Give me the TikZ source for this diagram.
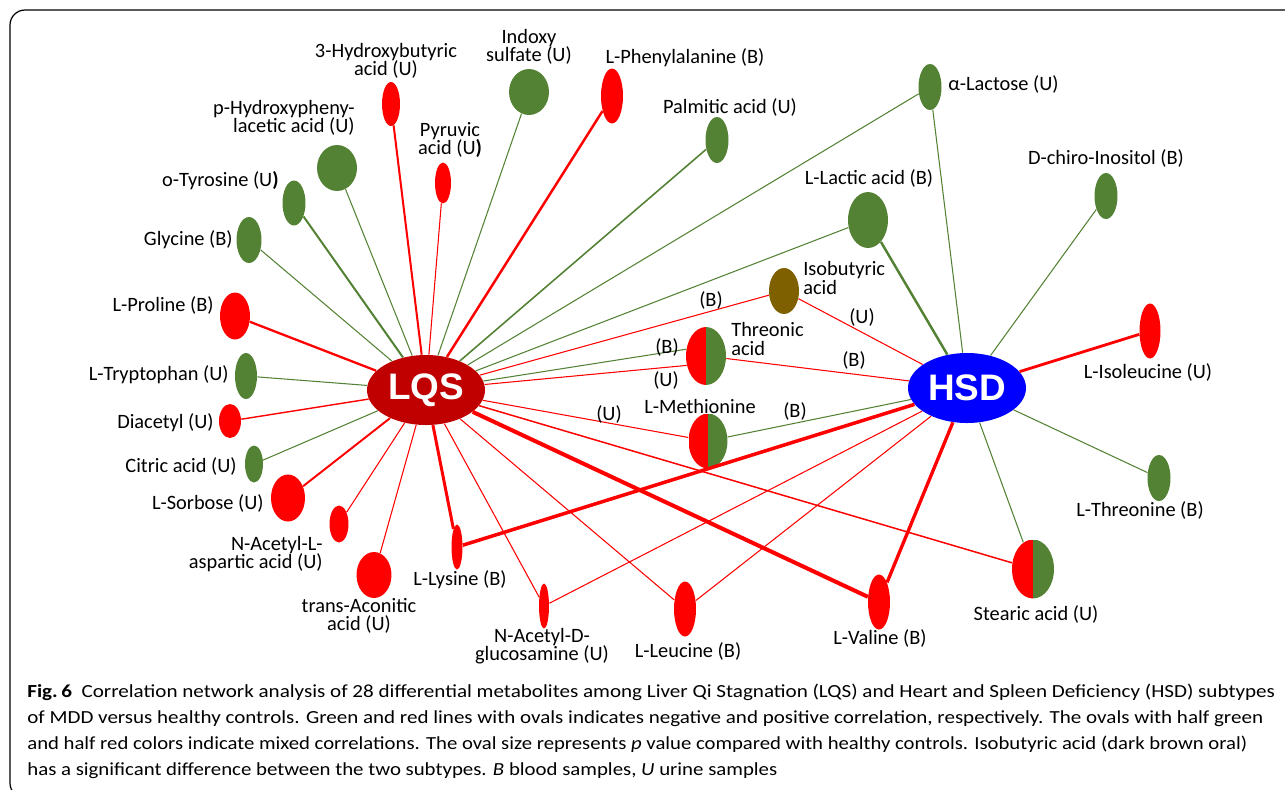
\documentclass[tikz,border=0pt]{standalone}
\usepackage{fontspec}
\usepackage{graphicx}
\setmainfont{Carlito}
\newfontfamily\arialf{Liberation Sans}
\usetikzlibrary{shapes.geometric}
\definecolor{gr}{HTML}{548235}
\definecolor{rd}{HTML}{FF0000}
\definecolor{lqsred}{HTML}{C00000}
\definecolor{brn}{HTML}{7F6000}
\definecolor{hsdblue}{HTML}{0000FF}
\begin{document}
\begin{tikzpicture}[x=0.02cm,y=-0.02cm,
  ov/.style 2 args={ellipse, inner sep=0pt, minimum width=#1*0.04cm, minimum height=#2*0.04cm},
  gfill/.style={fill=gr}, rfill/.style={fill=rd},
  mix/.style={path picture={
    \fill[rd] (path picture bounding box.south west) rectangle (path picture bounding box.north);
    \fill[gr] (path picture bounding box.south) rectangle (path picture bounding box.north east);}},
  lab/.style={font=\fontsize{11.6}{10.5}\selectfont, inner sep=0pt},
  hub/.style={ellipse, inner sep=0pt, minimum width=118*0.02cm, minimum height=70*0.02cm,
    text=white, font=\arialf\bfseries\fontsize{21}{21}\selectfont},
  gl/.style={draw=gr, line width=#1},
  rl/.style={draw=rd, line width=#1},
  captxt/.style={anchor=base west, inner sep=0pt, font=\fontsize{10.5}{12}\selectfont}
]
\useasboundingbox (0,0) rectangle (1285,789);
\begin{scope}
\clip (0,0) rectangle (1285,789);
\draw[line width=0.7pt, rounded corners=15*0.02cm] (1320,10) -- (10,10) -- (10,798) -- (1320,798);
\end{scope}

% hubs
\node[hub, fill=lqsred] (LQS) at (426,390) {LQS};
\node[hub, fill=hsdblue] (HSD) at (967,388) {HSD};

% metabolites
\node[ov={9}{22}, rfill] (hyb) at (391,104) {};
\node[ov={20}{23}, gfill] (php) at (337,168) {};
\node[ov={11.5}{22.5}, gfill] (oty) at (294,203) {};
\node[ov={12.5}{23}, gfill] (gly) at (249,240) {};
\node[ov={8}{20.5}, rfill] (pyr) at (443,183) {};
\node[ov={20}{23}, gfill] (ind) at (529,92) {};
\node[ov={11}{27.5}, rfill] (phe) at (612,96) {};
\node[ov={11.5}{23}, gfill] (pal) at (717,140) {};
\node[ov={11.5}{23}, gfill] (alac) at (930,87) {};
\node[ov={20}{28}, gfill] (llac) at (868,220) {};
\node[ov={11.5}{23}, gfill] (dchi) at (1106,196) {};
\node[ov={15}{23}, fill=brn] (iso) at (784,291) {};
\node[ov={20}{29}, mix] (thr) at (706,356) {};
\node[ov={19.5}{27.5}, mix] (met) at (708,441) {};
\node[ov={15}{23.5}, rfill] (pro) at (235,316) {};
\node[ov={11}{23}, gfill] (trp) at (246,376) {};
\node[ov={11}{17}, rfill] (dia) at (230,421) {};
\node[ov={9}{18.5}, gfill] (cit) at (254,464) {};
\node[ov={17}{23.5}, rfill] (sor) at (288,498) {};
\node[ov={9.5}{18.5}, rfill] (nal) at (339,524) {};
\node[ov={17.5}{23}, rfill] (tac) at (374,575) {};
\node[ov={5.5}{22.5}, rfill] (lys) at (457,547) {};
\node[ov={5}{22.5}, rfill] (nad) at (544,606) {};
\node[ov={11}{27.5}, rfill] (leu) at (685,609) {};
\node[ov={11}{27.5}, rfill] (val) at (879,602) {};
\node[ov={10.5}{27.5}, rfill] (ile) at (1150,331) {};
\node[ov={11.5}{23}, gfill] (thn) at (1159,478) {};
\node[ov={21}{29.5}, mix] (ste) at (1033,569) {};

% edges to LQS
\draw[rl=1.15pt] (LQS) -- (hyb);
\draw[gl=0.6pt] (LQS) -- (php);
\draw[gl=1.15pt] (LQS) -- (oty);
\draw[gl=0.6pt] (LQS) -- (gly);
\draw[rl=0.6pt] (LQS) -- (pyr);
\draw[gl=0.6pt] (LQS) -- (ind);
\draw[rl=1.4pt] (LQS) -- (phe);
\draw[gl=0.9pt] (LQS) -- (pal);
\draw[gl=0.6pt] (LQS) -- (alac);
\draw[gl=0.6pt] (LQS) -- (llac);
\draw[rl=0.6pt] (LQS) -- (iso);
\draw[gl=0.6pt] (LQS) -- (thr.161);
\draw[rl=0.6pt] (LQS) -- (thr.206);
\draw[rl=0.6pt] (LQS) -- (met);
\draw[rl=1.3pt] (LQS) -- (pro);
\draw[gl=0.6pt] (LQS) -- (trp);
\draw[rl=0.8pt] (LQS) -- (dia);
\draw[gl=0.6pt] (LQS) -- (cit);
\draw[rl=1.1pt] (LQS) -- (sor);
\draw[rl=0.6pt] (LQS) -- (nal);
\draw[rl=0.6pt] (LQS) -- (tac);
\draw[rl=1.7pt] (LQS) -- (lys);
\draw[rl=0.6pt] (LQS) -- (nad);
\draw[rl=0.6pt] (LQS) -- (leu);
\draw[rl=2.3pt] (LQS) -- (val);
\draw[rl=0.85pt] (LQS) -- (ste);

% edges to HSD
\draw[gl=0.6pt] (HSD) -- (alac);
\draw[gl=1.4pt] (HSD) -- (llac);
\draw[gl=0.6pt] (HSD) -- (dchi);
\draw[rl=0.6pt] (HSD) -- (iso);
\draw[rl=0.6pt] (HSD) -- (thr);
\draw[gl=0.6pt] (HSD) -- (met);
\draw[rl=1.6pt] (HSD) -- (ile);
\draw[gl=0.6pt] (HSD) -- (thn);
\draw[gl=0.6pt] (HSD) -- (ste);
\draw[rl=2.0pt] (HSD) -- (lys);
\draw[rl=0.6pt] (HSD) -- (nad);
\draw[rl=0.6pt] (HSD) -- (leu);
\draw[rl=1.9pt] (HSD) -- (val);

% labels
\node[lab, align=center] (lhyb) at (386,61) {3-Hydroxybutyric\\acid (U)};
\node[lab, align=right, anchor=east] (lphp) at (355,118) {p-Hydroxypheny-\\lacetic acid (U)};
\node[lab, anchor=east] (loty) at (279,181) {o-Tyrosine (U\textbf{)}};
\node[lab, anchor=east] (lgly) at (233,240) {Glycine (B)};
\node[lab, align=center] (lpyr) at (450,140) {Pyruvic\\acid (U\textbf{)}};
\node[lab, align=center] (lind) at (529,47) {Indoxy\\sulfate (U)};
\node[lab] (lphe) at (685,58) {L-Phenylalanine (B)};
\node[lab] (lpal) at (730,107) {Palmitic acid (U)};
\node[lab] (lllac) at (869,178) {L-Lactic acid (B)};
\node[lab, anchor=west] (lalac) at (948,84) {α-Lactose (U)};
\node[lab] (ldchi) at (1106,158) {D-chiro-Inositol (B)};
\node[lab, align=left, anchor=west] (liso) at (803,278) {Isobutyric\\acid};
\node[lab, align=left, anchor=west] (lthr) at (731,339) {Threonic\\acid};
\node[lab] (lmet) at (700,406) {L-Methionine};
\node[lab, anchor=east] (lpro) at (214,305) {L-Proline (B)};
\node[lab, anchor=east] (ltrp) at (229,375) {L-Tryptophan (U)};
\node[lab, anchor=east] (ldia) at (214,423) {Diacetyl (U)};
\node[lab, anchor=east] (lcit) at (237,466) {Citric acid (U)};
\node[lab, anchor=east] (lsor) at (264,503) {L-Sorbose (U)};
\node[lab, align=right, anchor=east] (lnal) at (323,554) {N-Acetyl-L-\\aspartic acid (U)};
\node[lab, align=center] (ltac) at (359,616) {trans-Aconitic\\acid (U)};
\node[lab] (llys) at (460,580) {L-Lysine (B)};
\node[lab, align=center] (lnad) at (542,646) {N-Acetyl-D-\\glucosamine (U)};
\node[lab] (lleu) at (688,651) {L-Leucine (B)};
\node[lab] (lval) at (880,638) {L-Valine (B)};
\node[lab] (lile) at (1148,372) {L-Isoleucine (U)};
\node[lab] (lthn) at (1140,510) {L-Threonine (B)};
\node[lab] (lste) at (1036,614) {Stearic acid (U)};

% edge sample labels
\node[lab] (e1) at (711,300) {(B)};
\node[lab] (e2) at (862,317) {(U)};
\node[lab] (e3) at (667,347) {(B)};
\node[lab] (e4) at (666,380) {(U)};
\node[lab] (e5) at (854,360) {(B)};
\node[lab] (e6) at (609,414) {(U)};
\node[lab] (e7) at (795,411) {(B)};

% caption
\node[captxt] (c1) at (27,697) {\resizebox{24.96cm}{\height}{\textbf{Fig.\,6}\ \ Correlation network analysis of 28 differential metabolites among Liver Qi Stagnation (LQS) and Heart and Spleen Deficiency (HSD) subtypes}};
\node[captxt] (c2) at (27,723) {\resizebox{24.72cm}{\height}{of MDD versus healthy controls. Green and red lines with ovals indicates negative and positive correlation, respectively. The ovals with half green}};
\node[captxt] (c3) at (27,749) {\resizebox{24.4cm}{\height}{and half red colors indicate mixed correlations. The oval size represents \textit{p} value compared with healthy controls. Isobutyric acid (dark brown oral)}};
\node[captxt] (c4) at (27,775) {\resizebox{15.0cm}{\height}{has a significant difference between the two subtypes. \textit{B} blood samples, \textit{U} urine samples}};
\end{tikzpicture}
\end{document}
